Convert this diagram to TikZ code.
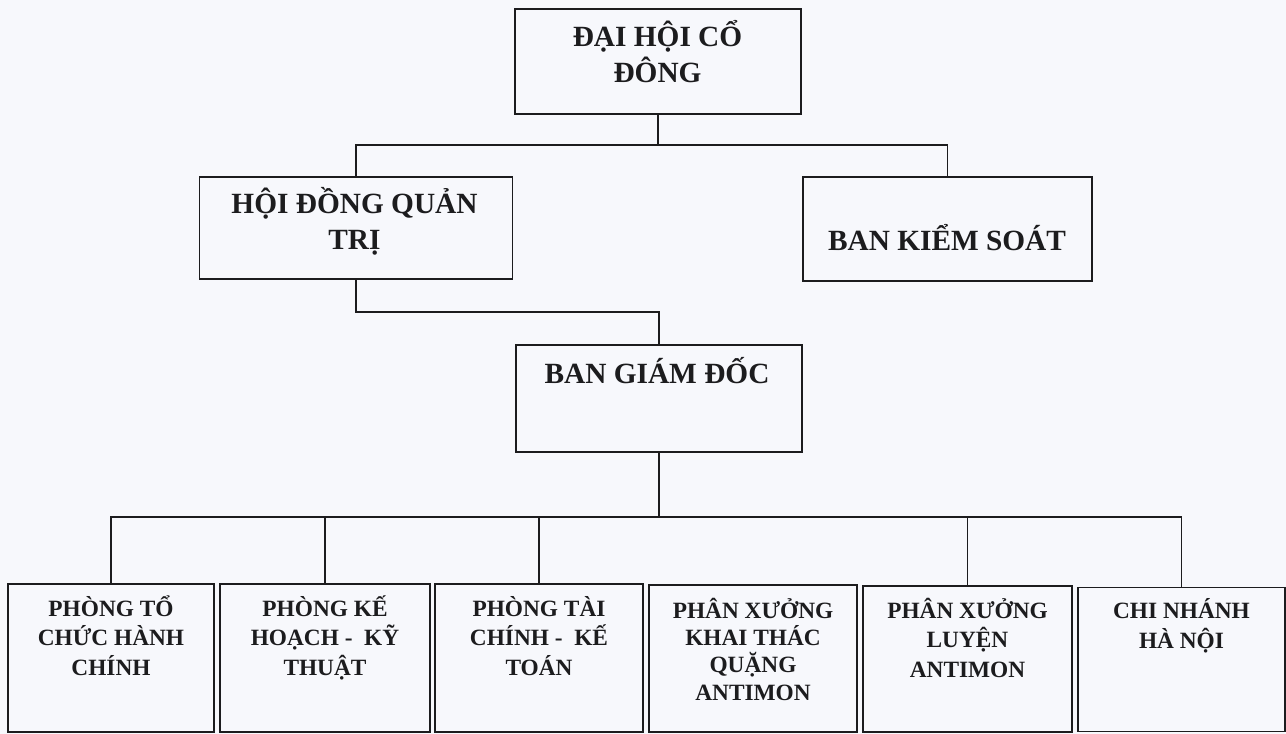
\documentclass[tikz,border=0pt]{standalone}
\usepackage{fontspec}
\setmainfont{Liberation Serif}
\definecolor{ink}{RGB}{28,28,30}
\definecolor{paper}{RGB}{247,248,252}
\begin{document}
\begin{tikzpicture}[x=0.75pt,y=-0.75pt,
  box/.style={draw=ink, line width=1.3pt, fill=paper, inner sep=0pt},
  big/.style={font=\bfseries\fontsize{22}{27}\selectfont, text=ink, align=center, inner sep=0pt, anchor=base},
  small/.style={font=\bfseries\fontsize{17.5}{22}\selectfont, text=ink, align=center, inner sep=0pt, anchor=base},
  link/.style={draw=ink, line width=1.3pt}]
\useasboundingbox (0,0) rectangle (1286,734);
\fill[paper] (0,0) rectangle (1286,734);

% upper level boxes
\node[box, minimum width=214.5pt, minimum height=78.75pt] (dh) at (658,61.5) {};
\node[box, minimum width=234.75pt, minimum height=76.5pt] (hd) at (356,228) {};
\node[box, minimum width=216.75pt, minimum height=78pt] (bks) at (947.5,229) {};
\node[box, minimum width=214.5pt, minimum height=80.25pt] (bgd) at (659,398.5) {};

% lower level boxes
\node[box, minimum width=154.5pt, minimum height=111pt] (p1) at (111,658) {};
\node[box, minimum width=157.5pt, minimum height=111pt] (p2) at (325,658) {};
\node[box, minimum width=156pt, minimum height=111pt] (p3) at (539,658) {};
\node[box, minimum width=156pt, minimum height=110pt] (p4) at (753,658.5) {};
\node[box, minimum width=156.75pt, minimum height=109pt] (p5) at (967.5,659) {};
\node[box, minimum width=155.25pt, minimum height=108pt] (p6) at (1181.5,659.5) {};

% connectors
\coordinate (bus1) at (0,145);
\coordinate (bus2) at (0,312);
\coordinate (bus3) at (0,517);
\draw[link] (dh.south) -- (dh.south |- bus1);
\draw[link] (hd.north) |- (bks.north |- bus1) -- (bks.north);
\draw[link] (hd.south) |- (bgd.north |- bus2) -- (bgd.north);
\draw[link] (bgd.south) -- (bgd.south |- bus3);
\draw[link] (p1.north) |- (p6.north |- bus3) -- (p6.north);
\draw[link] (p2.north) -- (p2.north |- bus3);
\draw[link] (p3.north) -- (p3.north |- bus3);
\draw[link] (p5.north) -- (p5.north |- bus3);

% texts (anchor = baseline of last line)
\node[big] (dht) at (657.5,83) {ĐẠI HỘI CỔ\\ĐÔNG};
\node[big] (hdt) at (354.5,250) {HỘI ĐỒNG QUẢN\\TRỊ};
\node[big] (bkst) at (947,251) {BAN KIỂM SOÁT};
\node[big] (bgdt) at (657,383) {BAN GIÁM ĐỐC};

\node[small] (p1t) at (111,675) {PHÒNG TỔ\\CHỨC HÀNH\\CHÍNH};
\node[small] (p2t) at (325,675) {PHÒNG KẾ\\HOẠCH - ~KỸ\\THUẬT};
\node[small] (p3t) at (539,675) {PHÒNG TÀI\\CHÍNH - ~KẾ\\TOÁN};
\node[small, font=\bfseries\fontsize{17.5}{20.5}\selectfont] (p4t) at (753,700) {PHÂN XƯỞNG\\KHAI THÁC\\QUẶNG\\ANTIMON};
\node[small] (p5t) at (967.5,677) {PHÂN XƯỞNG\\LUYỆN\\ANTIMON};
\node[small] (p6t) at (1181.5,648) {CHI NHÁNH\\HÀ NỘI};
\end{tikzpicture}
\end{document}
